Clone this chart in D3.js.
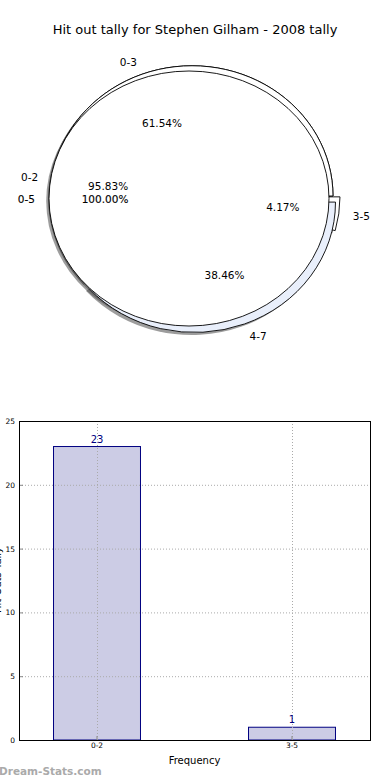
<!DOCTYPE html>
<html>
<head>
<meta charset="utf-8" />
<title>Hit out tally</title>
<script src="https://cdnjs.cloudflare.com/ajax/libs/d3/7.8.5/d3.min.js"></script>
<style>
  body { margin: 0; background: #fff; }
  text { font-family: "DejaVu Sans", sans-serif; }
</style>
</head>
<body>
<div id="chart"></div>
<script>
const title = "Hit out tally for Stephen Gilham - 2008 tally";

// pie rings, counts per bracket (drawn in this order)
const ringALabels = ["0-2", "3-5"];
const ringAValues = [23, 1];
const ringBLabels = ["0-3", "4-7"];
const ringBValues = [8, 5];
const ringCLabels = ["0-5"];
const ringCValues = [24];

// bar chart
const barCats = ["0-2", "3-5"];
const barValues = [23, 1];
const yTicks = [0, 5, 10, 15, 20, 25];

const W = 390, H = 780;
const svg = d3.select("#chart").append("svg")
  .attr("width", W).attr("height", H);

svg.append("text")
  .attr("x", 195).attr("y", 34)
  .attr("text-anchor", "middle")
  .style("font-size", "13px")
  .text(title);

// ---- pie part ----
const rings = [
  { labels: ringALabels, values: ringAValues, colors: ["#ffffff", "#ffffff"], explode: [0, 0.05], cx: 192, cy: 196, rx: 141, ry: 130.3, heavy: false },
  { labels: ringBLabels, values: ringBValues, colors: ["#ffffff", "#e9effb"], explode: [0, 0.05], cx: 192, cy: 196, rx: 141, ry: 130.3, heavy: false },
  { labels: ringCLabels, values: ringCValues, colors: ["#ffffff"], explode: [0], cx: 189, cy: 198.5, rx: 140, ry: 127.5, heavy: true }
];

// matplotlib style: start at 3 o'clock, counter clockwise
const pie = d3.pie().sort(null).value(d => d)
  .startAngle(Math.PI / 2).endAngle(Math.PI / 2 - 2 * Math.PI);
const arc = d3.arc().innerRadius(0).outerRadius(1);

rings.forEach(r => {
  r.arcs = pie(r.values);
  r.total = d3.sum(r.values);
  r.arcs.forEach((a, i) => {
    const mid = (a.startAngle + a.endAngle) / 2;
    a.mid = mid;
    a.ox = r.explode[i] * Math.sin(mid);
    a.oy = -r.explode[i] * Math.cos(mid);
  });
});

const shadowLayer = svg.append("g");
const wedgeLayer = svg.append("g");
const textLayer = svg.append("g");

// all shadows sit below all wedges
rings.forEach(r => {
  const g = shadowLayer.append("g")
    .attr("transform", `translate(${r.cx},${r.cy}) scale(${r.rx},${r.ry})`);
  g.selectAll("path").data(r.arcs).join("path")
    .attr("transform", a => `translate(${a.ox - 0.02},${a.oy + 0.02})`)
    .attr("d", arc)
    .attr("fill", "#4d4d4d")
    .attr("fill-opacity", 0.55);
});

rings.forEach(r => {
  const g = wedgeLayer.append("g")
    .attr("transform", `translate(${r.cx},${r.cy}) scale(${r.rx},${r.ry})`);
  g.selectAll("path").data(r.arcs).join("path")
    .attr("transform", a => `translate(${a.ox},${a.oy})`)
    .attr("d", arc)
    .attr("fill", (a, i) => r.colors[i])
    .attr("stroke", "#000")
    .attr("stroke-width", 0.9)
    .attr("vector-effect", "non-scaling-stroke");

  r.arcs.forEach((a, i) => {
    const ux = Math.sin(a.mid), uy = -Math.cos(a.mid);
    const bx = r.cx + a.ox * r.rx, by = r.cy + a.oy * r.ry;
    const lab = textLayer.append("text")
      .attr("x", bx + 1.1 * r.rx * ux)
      .attr("y", by + 1.1 * r.ry * uy)
      .attr("text-anchor", ux > 0.001 ? "start" : "end")
      .attr("dominant-baseline", "central")
      .style("font-size", "10.5px")
      .text(r.labels[i]);
    const pct = textLayer.append("text")
      .attr("x", bx + 0.6 * r.rx * ux)
      .attr("y", by + 0.6 * r.ry * uy)
      .attr("text-anchor", "middle")
      .attr("dominant-baseline", "central")
      .style("font-size", "10.5px")
      .text((r.values[i] / r.total * 100).toFixed(2) + "%");
    if (r.heavy) {
      lab.attr("stroke", "#000").attr("stroke-width", 0.12);
      pct.attr("stroke", "#000").attr("stroke-width", 0.12);
    }
  });
});

// ---- bar part ----
const plotLeft = 19, plotRight = 370, plotTop = 421, plotBottom = 740;

const x = d3.scaleBand().domain(barCats).range([plotLeft, plotRight])
  .paddingInner(0.554).paddingOuter(0.177);
const y = d3.scaleLinear().domain([0, 25]).range([plotBottom, plotTop]);

const bars = svg.append("g");
bars.selectAll("rect").data(barValues).join("rect")
  .attr("x", (d, i) => x(barCats[i]))
  .attr("y", d => y(d))
  .attr("width", x.bandwidth())
  .attr("height", d => y(0) - y(d))
  .attr("fill", "#ccccE5")
  .attr("stroke", "#000080")
  .attr("stroke-width", 1);

// dotted grid on top of bars
const grid = svg.append("g")
  .attr("stroke", "#aaa").attr("stroke-dasharray", "1,2").attr("stroke-width", 1);
grid.selectAll("line.h").data(yTicks.slice(1, -1)).join("line")
  .attr("class", "h")
  .attr("x1", plotLeft).attr("x2", plotRight)
  .attr("y1", d => y(d) + 0.5).attr("y2", d => y(d) + 0.5);
grid.selectAll("line.v").data(barCats).join("line")
  .attr("class", "v")
  .attr("y1", plotTop).attr("y2", plotBottom)
  .attr("x1", d => Math.round(x(d) + x.bandwidth() / 2) + 0.5)
  .attr("x2", d => Math.round(x(d) + x.bandwidth() / 2) + 0.5);

svg.selectAll("text.val").data(barValues).join("text")
  .attr("class", "val")
  .attr("x", (d, i) => x(barCats[i]) + x.bandwidth() / 2)
  .attr("y", d => y(d) - 4)
  .attr("text-anchor", "middle")
  .attr("fill", "#000080")
  .style("font-size", "10px")
  .text(d => d);

const yAxis = svg.append("g")
  .attr("transform", `translate(${plotLeft},0)`)
  .call(d3.axisLeft(y).tickValues(yTicks).tickSizeInner(-4).tickSizeOuter(0).tickPadding(4));
yAxis.select(".domain").remove();
yAxis.selectAll(".tick line").attr("stroke", "#888");
yAxis.selectAll("text").style("font-size", "7.5px").attr("fill", "#000");

const xAxis = svg.append("g")
  .attr("transform", `translate(0,${plotBottom})`)
  .call(d3.axisBottom(x).tickSizeInner(-4).tickSizeOuter(0).tickPadding(3));
xAxis.select(".domain").remove();
xAxis.selectAll(".tick line").attr("stroke", "#888");
xAxis.selectAll("text").style("font-size", "7.5px").attr("fill", "#000");

svg.append("rect")
  .attr("x", plotLeft + 0.5).attr("y", plotTop + 0.5)
  .attr("width", plotRight - plotLeft).attr("height", plotBottom - plotTop)
  .attr("fill", "none").attr("stroke", "#000").attr("stroke-width", 1);

svg.append("text")
  .attr("x", (plotLeft + plotRight) / 2).attr("y", 764)
  .attr("text-anchor", "middle")
  .style("font-size", "10px")
  .text("Frequency");

// y label sits mostly outside the picture, as in the original
svg.append("text")
  .attr("transform", "translate(1,580) rotate(-90)")
  .attr("text-anchor", "middle")
  .style("font-size", "10px")
  .text("Hit Outs Tally");

svg.append("text")
  .attr("x", -1).attr("y", 775)
  .attr("fill", "#aaaaaa")
  .style("font-size", "10.5px")
  .style("font-weight", "bold")
  .text("Dream-Stats.com");
</script>
</body>
</html>
